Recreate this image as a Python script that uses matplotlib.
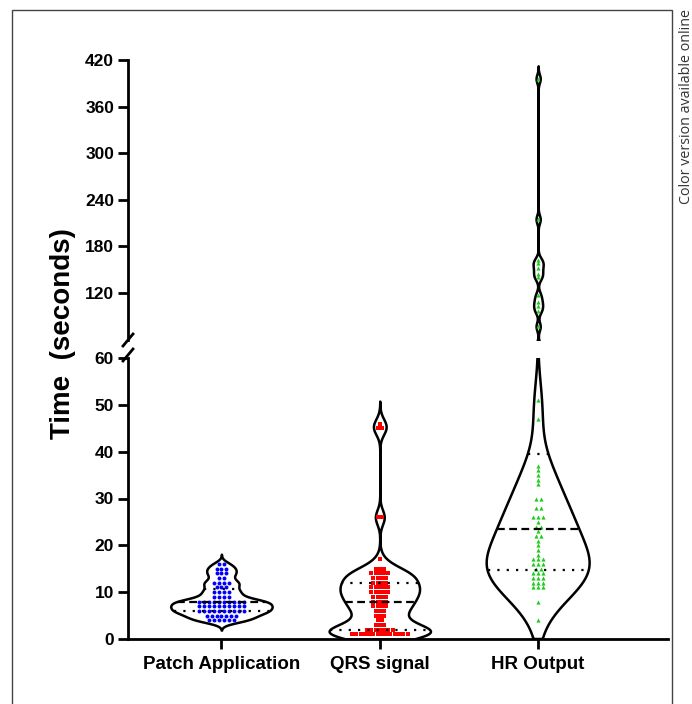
import numpy as np
import matplotlib
matplotlib.use("Agg")
import matplotlib.pyplot as plt
from matplotlib import mlab
from matplotlib.lines import Line2D
from matplotlib.patches import Rectangle

plt.rcParams["font.family"] = ["Liberation Sans", "DejaVu Sans"]

groups = ["Patch Application", "QRS signal", "HR Output"]

# time in seconds and how many recordings sat at that value
patch_vals   = [4, 5, 6, 7, 8, 9, 10, 11, 12, 13, 14, 15, 16]
patch_counts = [6, 7, 10, 10, 10, 4, 4, 3, 4, 2, 3, 3, 2]

qrs_vals   = [1, 2, 3, 4, 5, 6, 7, 8, 9, 10, 11, 12, 13, 14, 15, 17, 26, 45, 46]
qrs_counts = [14, 7, 3, 2, 3, 3, 4, 4, 4, 5, 5, 4, 4, 5, 3, 1, 2, 2, 1]

hr_vals   = [4, 8, 11, 12, 13, 14, 15, 16, 17, 18, 19, 20, 21, 22, 23, 24, 25, 26,
             28, 30, 33, 34, 35, 36, 37, 47, 51,
             77, 97, 103, 109, 117, 140, 145, 152, 158, 162, 215, 396]
hr_counts = [1, 1, 3, 3, 3, 3, 2, 3, 3, 1, 1, 1, 1, 2, 1, 2, 1, 3,
             2, 2, 1, 1, 1, 1, 1, 1, 1,
             1, 1, 1, 1, 1, 1, 1, 1, 1, 1, 1, 1]

y_ticks_low  = [0, 10, 20, 30, 40, 50, 60]
y_ticks_high = [120, 180, 240, 300, 360, 420]

# ── drawing settings ─────────────────────────────────────────────────────────
colors    = ["#0000ff", "#ff0000", "#1ecb1e"]
markers   = ["o", "s", "^"]
msizes    = [8, 5, 9]
bws       = [0.7, 1.6, 5.5]          # KDE bandwidth in seconds
widths    = [0.64, 0.64, 0.65]
floors    = [None, 0.0, 0.0]
dot_gap   = [0.031, 0.027, 0.030]
positions = [1, 2, 3]


def expand(vals, counts):
    return np.repeat(np.array(vals, float), counts)


def violin_stats(data, bw, floor):
    kde = mlab.GaussianKDE(data, bw / np.std(data, ddof=1))
    lo = data.min() - 3 * bw
    if floor is not None:
        lo = max(lo, floor)
    coords = np.linspace(lo, data.max() + 3 * bw, 1500)
    return dict(coords=coords, vals=kde.evaluate(coords), mean=data.mean(),
                median=np.median(data), min=data.min(), max=data.max(),
                quantiles=[])


datasets = [expand(patch_vals, patch_counts),
            expand(qrs_vals, qrs_counts),
            expand(hr_vals, hr_counts)]
raw = [(patch_vals, patch_counts), (qrs_vals, qrs_counts), (hr_vals, hr_counts)]
stats = [violin_stats(d, b, f) for d, b, f in zip(datasets, bws, floors)]

W, H = 692, 704
fig = plt.figure(figsize=(W / 100, H / 100), dpi=100)

left, right = 128 / W, 668 / W
ax_lo = fig.add_axes([left, 1 - 639 / H, right - left, (639 - 358) / H])
ax_hi = fig.add_axes([left, 1 - 339.6 / H, right - left, (339.6 - 60) / H])


def draw(ax):
    parts = ax.violin(stats, positions=positions, widths=widths,
                      showmeans=False, showextrema=False, showmedians=False)
    for b in parts["bodies"]:
        b.set_facecolor("white")
        b.set_edgecolor("black")
        b.set_linewidth(1.8)
        b.set_alpha(1)
        b.set_zorder(2)

    for i, (d, st) in enumerate(zip(datasets, stats)):
        # dots, one row per value
        vals, counts = raw[i]
        xs, ys = [], []
        for v, k in zip(vals, counts):
            off = (np.arange(k) - (k - 1) / 2) * dot_gap[i]
            xs.extend(positions[i] + off)
            ys.extend([v] * k)
        ax.scatter(xs, ys, s=msizes[i], marker=markers[i], color=colors[i],
                   linewidths=0, zorder=3)

        # quartiles
        q1, med, q3 = np.percentile(d, [25, 50, 75], method="weibull")
        vmax = st["vals"].max()
        for q, ls in [(q1, (0, (1, 3.2))), (med, (0, (3.5, 2))), (q3, (0, (1, 3.2)))]:
            half = 0.5 * widths[i] * np.interp(q, st["coords"], st["vals"]) / vmax
            ax.plot([positions[i] - half, positions[i] + half], [q, q],
                    color="black", lw=1.6, ls=ls, zorder=4)

    ax.set_xlim(0.41, 3.82)
    for s in ["top", "right"]:
        ax.spines[s].set_visible(False)
    ax.spines["left"].set_linewidth(2.0)
    ax.spines["bottom"].set_linewidth(2.0)
    ax.tick_params(axis="both", length=7, width=2.0, direction="out",
                   labelsize=12.5, pad=3)


draw(ax_lo)
draw(ax_hi)

ax_lo.set_ylim(0, 60)
ax_lo.set_yticks(y_ticks_low)
ax_lo.set_yticklabels([str(v) for v in y_ticks_low], fontweight="bold")
ax_lo.set_xticks(positions)
ax_lo.set_xticklabels(groups, fontweight="bold", fontsize=13.5)
ax_lo.tick_params(axis="x", pad=5)

ax_hi.set_ylim(60, 420)
ax_hi.set_yticks(y_ticks_high)
ax_hi.set_yticklabels([str(v) for v in y_ticks_high], fontweight="bold")
ax_hi.spines["bottom"].set_visible(False)
ax_hi.set_xticks([])

# break marks on the y axis
for y0 in [361, 346]:
    fig.add_artist(Line2D([123 / W, 133 / W], [1 - y0 / H, 1 - (y0 - 12) / H],
                          color="black", lw=2.0, transform=fig.transFigure))

fig.text(63 / W, 1 - 334 / H, "Time  (seconds)", rotation=90, ha="center",
         va="center", fontsize=20, fontweight="bold")

# outer frame and side note
fig.add_artist(Rectangle((12 / W, -0.01), (672 - 12) / W, (704 - 10) / H + 0.01,
                         fill=False, lw=1.0, edgecolor="#444444",
                         transform=fig.transFigure))
fig.text(686 / W, 1 - 107 / H, "Color version available online", rotation=90,
         ha="center", va="center", fontsize=10.3, color="#333333",
         family=["Open Sans", "DejaVu Sans"])

fig.savefig("out.png", dpi=100)
